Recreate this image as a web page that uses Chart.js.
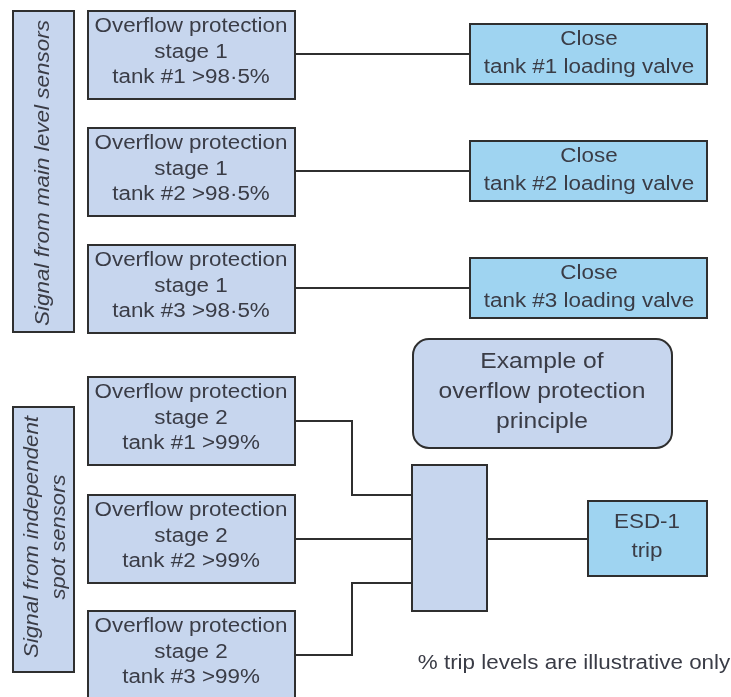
<!DOCTYPE html>
<html>
<head>
<meta charset="utf-8">
<script src="https://cdn.jsdelivr.net/npm/chart.js@4.4.0/dist/chart.umd.min.js"></script>
<style>
  html, body { margin: 0; padding: 0; background: #fff; }
  #wrap { width: 731px; height: 697px; }
</style>
</head>
<body>
<div id="wrap"><canvas id="diagram"></canvas></div>
<script>
// Diagram content (coordinates are in diagram units, 0..731 x 0..697)
const sideTop = ['Signal from main level sensors'];
const sideBottom = ['Signal from independent', 'spot sensors'];
const stage1Tanks = ['tank #1 >98·5%', 'tank #2 >98·5%', 'tank #3 >98·5%'];
const stage2Tanks = ['tank #1 >99%', 'tank #2 >99%', 'tank #3 >99%'];
const valveTanks = ['tank #1 loading valve', 'tank #2 loading valve', 'tank #3 loading valve'];
const stage1Rows = [55, 172, 289];
const stage2Rows = [421, 539, 655];
const principleText = ['Example of', 'overflow protection', 'principle'];
const esdText = ['ESD-1', 'trip'];
const noteText = '% trip levels are illustrative only';

// connector lines, as point lists
const connectors = [
    [{x: 295, y: 54}, {x: 470, y: 54}],
    [{x: 295, y: 171}, {x: 470, y: 171}],
    [{x: 295, y: 288}, {x: 470, y: 288}],
    [{x: 295, y: 421}, {x: 352, y: 421}, {x: 352, y: 495}, {x: 412, y: 495}],
    [{x: 295, y: 539}, {x: 412, y: 539}],
    [{x: 295, y: 655}, {x: 352, y: 655}, {x: 352, y: 583}, {x: 412, y: 583}],
    [{x: 487, y: 539}, {x: 588, y: 539}]
];

const STRETCH = 1.12;
const INK = '#3a3c46';
const LAVENDER = '#c7d6ee';
const SKY = '#9fd4f1';
const FONT = '"Liberation Sans", Arial, sans-serif';

function drawBox(ctx, sx, sy, x0, y0, x1, y1, fill, radius) {
    const l = sx.getPixelForValue(x0), r = sx.getPixelForValue(x1);
    const t = sy.getPixelForValue(y0), b = sy.getPixelForValue(y1);
    ctx.save();
    ctx.beginPath();
    if (radius) {
        ctx.roundRect(l, t, r - l, b - t, radius);
    } else {
        ctx.rect(l, t, r - l, b - t);
    }
    ctx.fillStyle = fill;
    ctx.fill();
    ctx.lineWidth = 2;
    ctx.strokeStyle = '#2f2f2f';
    ctx.stroke();
    ctx.restore();
}

// horizontal text, centred lines
function drawLines(ctx, sx, sy, cx, cy, lines, size, gap) {
    const px = sx.getPixelForValue(cx), py = sy.getPixelForValue(cy);
    ctx.save();
    ctx.translate(px, py);
    ctx.font = size + 'px ' + FONT;
    ctx.fillStyle = INK;
    ctx.textAlign = 'center';
    ctx.textBaseline = 'middle';
    const start = -gap * (lines.length - 1) / 2;
    lines.forEach((txt, i) => {
        ctx.save();
        ctx.translate(0, start + i * gap);
        ctx.scale(STRETCH, 1);
        ctx.fillText(txt, 0, 0);
        ctx.restore();
    });
    ctx.restore();
}

// vertical italic text reading bottom-to-top, each line fitted to a length
function drawSide(ctx, sx, sy, xs, cys, lines, lengths, size) {
    ctx.save();
    ctx.font = 'italic ' + size + 'px ' + FONT;
    ctx.fillStyle = INK;
    ctx.textAlign = 'center';
    ctx.textBaseline = 'middle';
    lines.forEach((txt, i) => {
        const w = ctx.measureText(txt).width;
        ctx.save();
        ctx.translate(sx.getPixelForValue(xs[i]), sy.getPixelForValue(cys[i]));
        ctx.rotate(-Math.PI / 2);
        ctx.scale(lengths[i] / w, STRETCH);
        ctx.fillText(txt, 0, 0);
        ctx.restore();
    });
    ctx.restore();
}

const boxesPlugin = {
    id: 'boxes',
    afterDatasetsDraw(chart) {
        const ctx = chart.ctx;
        const sx = chart.scales.x, sy = chart.scales.y;

        // side label boxes
        drawBox(ctx, sx, sy, 13, 11, 74, 332, LAVENDER);
        drawSide(ctx, sx, sy, [43], [173], sideTop, [306], 18);
        drawBox(ctx, sx, sy, 13, 407, 74, 672, LAVENDER);
        drawSide(ctx, sx, sy, [32, 59], [537, 537], sideBottom, [242, 125], 18);

        // stage 1 sensors and valves
        stage1Rows.forEach((cy, i) => {
            drawBox(ctx, sx, sy, 88, cy - 44, 295, cy + 44, LAVENDER);
            drawLines(ctx, sx, sy, 191, cy - 3, ['Overflow protection', 'stage 1', stage1Tanks[i]], 20, 25.5);
            drawBox(ctx, sx, sy, 470, cy - 31, 707, cy + 29, SKY);
            drawLines(ctx, sx, sy, 589, cy - 2, ['Close', valveTanks[i]], 20, 28);
        });

        // stage 2 sensors
        stage2Rows.forEach((cy, i) => {
            drawBox(ctx, sx, sy, 88, cy - 44, 295, cy + 44, LAVENDER);
            drawLines(ctx, sx, sy, 191, cy - 3, ['Overflow protection', 'stage 2', stage2Tanks[i]], 20, 25.5);
        });

        // principle label
        drawBox(ctx, sx, sy, 413, 339, 672, 448, LAVENDER, 16);
        drawLines(ctx, sx, sy, 542, 392, principleText, 22, 30);

        // gate and ESD trip
        drawBox(ctx, sx, sy, 412, 465, 487, 611, LAVENDER);
        drawBox(ctx, sx, sy, 588, 501, 707, 576, SKY);
        drawLines(ctx, sx, sy, 647, 537, esdText, 20, 29);

        // note
        drawLines(ctx, sx, sy, 574, 663, [noteText], 20, 0);
    }
};

const ctx = document.getElementById('diagram').getContext('2d');
new Chart(ctx, {
    type: 'scatter',
    data: {
        datasets: connectors.map(pts => ({
            data: pts,
            showLine: true,
            borderColor: '#2f2f2f',
            borderWidth: 2,
            pointRadius: 0,
            tension: 0,
            fill: false
        }))
    },
    options: {
        responsive: true,
        maintainAspectRatio: false,
        animation: false,
        layout: { padding: 0 },
        plugins: {
            legend: { display: false },
            tooltip: { enabled: false }
        },
        scales: {
            x: { type: 'linear', min: 0, max: 731, display: false },
            y: { type: 'linear', min: 0, max: 697, reverse: true, display: false }
        }
    },
    plugins: [boxesPlugin]
});
</script>
</body>
</html>
